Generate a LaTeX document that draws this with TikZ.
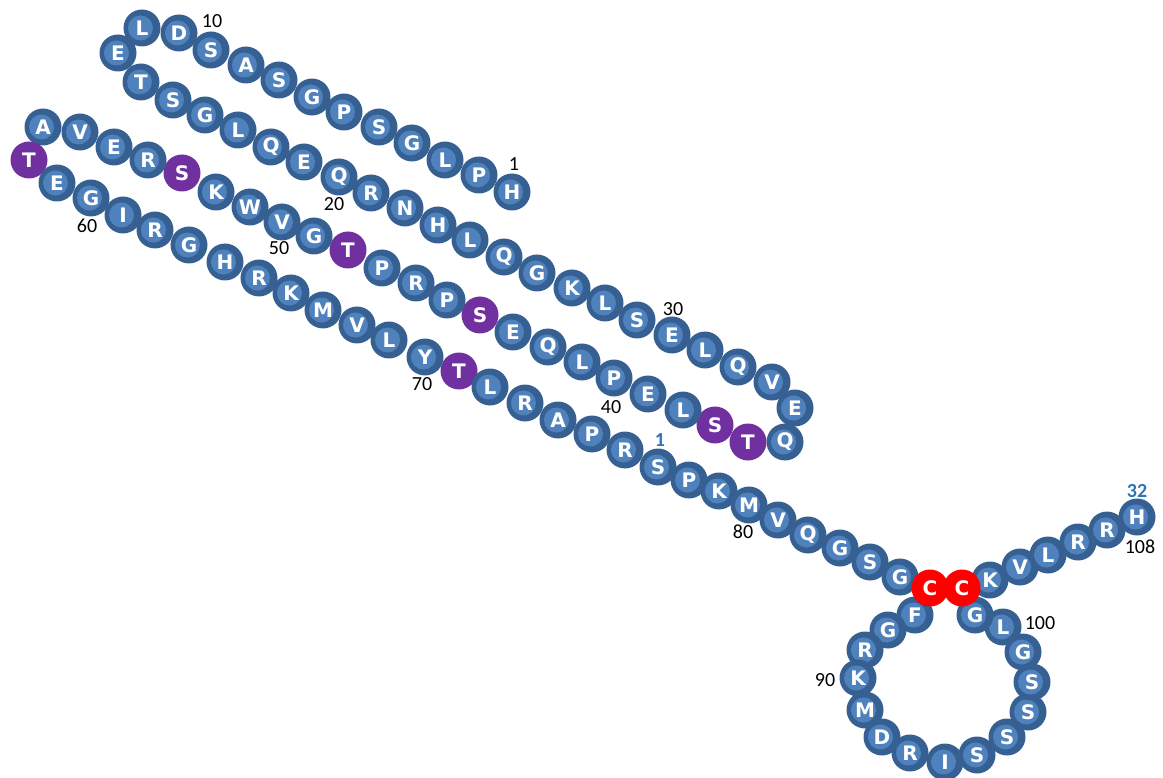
\documentclass[tikz,border=0pt]{standalone}
\usepackage{fontspec}
\newfontfamily\beadfont{DejaVu Sans}
\newfontfamily\numfont{Carlito}
\definecolor{ringblue}{HTML}{366092}
\definecolor{coreblue}{HTML}{4F81BD}
\definecolor{phospho}{HTML}{7030A0}
\definecolor{cysred}{HTML}{FF0000}
\definecolor{altnum}{HTML}{2E75B6}
\tikzset{
  bead/.style={circle, inner sep=0pt, minimum size=37pt, text=white,
    font=\beadfont\bfseries\fontsize{20}{20}\selectfont},
  res/.style={bead, fill=ringblue,
    path picture={\fill[coreblue] ([xshift=-1.5pt]path picture bounding box.center) circle (12.5pt);}},
  phos/.style={bead, fill=phospho},
  cys/.style={bead, fill=cysred},
  poslabel/.style={font=\numfont\fontsize{20}{20}\selectfont, text=black, inner sep=0pt},
  altlabel/.style={font=\numfont\bfseries\fontsize{20}{20}\selectfont, text=altnum, inner sep=0pt}
}
\begin{document}
\begin{tikzpicture}[x=1pt, y=-1pt]
\useasboundingbox (0,0) rectangle (1163,778);
% residues of the chain, numbered from the N-terminus
\foreach \n/\x/\y/\aa/\kind in {
  1/512/192/H/res, 2/479/175/P/res, 3/445/160/L/res, 4/412/143/G/res,
  5/379/127/S/res, 6/344/112/P/res, 7/312/97/G/res, 8/279/80/S/res,
  9/246/65/A/res, 10/211/50/S/res, 11/179/33/D/res, 12/142/28/L/res,
  13/118/53/E/res, 14/141/82/T/res, 15/173/100/S/res, 16/205/115/G/res,
  17/238/130/L/res, 18/271/147/Q/res, 19/304/162/E/res, 20/339/177/Q/res,
  21/371/193/R/res, 22/405/208/N/res, 23/438/225/H/res, 24/470/240/L/res,
  25/504/257/Q/res, 26/537/273/G/res, 27/572/288/K/res, 28/605/303/L/res,
  29/637/320/S/res, 30/672/335/E/res, 31/705/350/L/res, 32/738/367/Q/res,
  33/772/382/V/res, 34/795/408/E/res, 35/785/442/Q/res, 36/748/442/T/phos,
  37/715/425/S/phos, 38/683/410/L/res, 39/648/394/E/res, 40/614/378/P/res,
  41/582/362/L/res, 42/548/347/Q/res, 43/513/332/E/res, 44/480/315/S/phos,
  45/447/300/P/res, 46/416/283/R/res, 47/382/268/P/res, 48/348/250/T/phos,
  49/314/236/G/res, 50/282/222/V/res, 51/250/207/W/res, 52/216/192/K/res,
  53/182/173/S/phos, 54/148/160/R/res, 55/114/147/E/res, 56/80/132/V/res,
  57/43/127/A/res, 58/29/160/T/phos, 59/57/183/E/res, 60/91/198/G/res,
  61/123/215/I/res, 62/155/230/R/res, 63/189/245/G/res, 64/225/262/H/res,
  65/259/278/R/res, 66/291/293/K/res, 67/323/310/M/res, 68/357/325/V/res,
  69/389/340/L/res, 70/425/357/Y/res, 71/459/371/T/phos, 72/490/387/L/res,
  73/525/403/R/res, 74/558/420/A/res, 75/592/434/P/res, 76/625/450/R/res,
  77/658/467/S/res, 78/689/480/P/res, 79/719/491/K/res, 80/749/505/M/res,
  81/778/520/V/res, 82/808/535/Q/res, 83/840/548/G/res, 84/870/562/S/res,
  85/900/577/G/res, 87/915/615/F/res, 88/888/630/G/res, 89/865/650/R/res,
  90/858/678/K/res, 91/865/710/M/res, 92/882/737/D/res, 93/910/753/R/res,
  94/945/762/I/res, 95/977/755/S/res, 96/1007/737/S/res, 97/1028/712/S/res,
  98/1032/682/S/res, 99/1023/652/G/res, 100/1003/627/L/res, 101/975/615/G/res,
  103/990/580/K/res, 104/1020/567/V/res, 105/1048/555/L/res, 106/1078/542/R/res,
  107/1107/530/R/res, 108/1137/517/H/res,
  86/930/588/C/cys, 102/962/588/C/cys}
  \node[\kind] (r\n) at (\x,\y) {\aa};
% position numbers
\node[poslabel] (n1)   at (514,164)  {1};
\node[poslabel] (n10)  at (212,21)   {10};
\node[poslabel] (n20)  at (334,204)  {20};
\node[poslabel] (n30)  at (673,309)  {30};
\node[poslabel] (n40)  at (611,407)  {40};
\node[poslabel] (n50)  at (279,248)  {50};
\node[poslabel] (n60)  at (87,226)   {60};
\node[poslabel] (n70)  at (422,384)  {70};
\node[poslabel] (n80)  at (743,532)  {80};
\node[poslabel] (n90)  at (825,680)  {90};
\node[poslabel] (n100) at (1040,623) {100};
\node[poslabel] (n108) at (1140,547) {108};
% numbering of the C-terminal fragment
\node[altlabel] (m1)  at (660,440) {1};
\node[altlabel] (m32) at (1137,491) {32};
\end{tikzpicture}
\end{document}
